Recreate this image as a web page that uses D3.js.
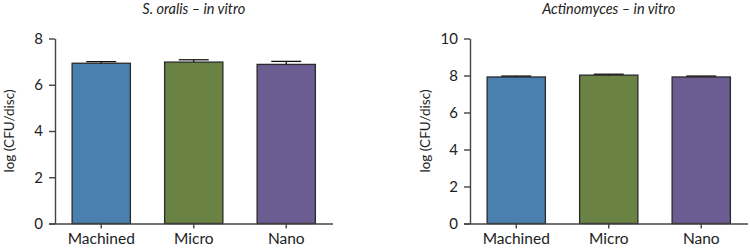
<!DOCTYPE html>
<html>
<head>
<meta charset="utf-8">
<script src="https://cdn.jsdelivr.net/npm/d3@7"></script>
<style>
  body { margin: 0; background: #fff; }
  svg text { font-family: Lato, "Open Sans", sans-serif; fill: #222; }
</style>
</head>
<body>
<div id="chart"></div>
<script>
// groups and colours shared by both panels
const groups = ["Machined", "Micro", "Nano"];
const barColors = ["#4a80b0", "#6a8244", "#6b5c91"];

// S. oralis - in vitro
const oralisMeans = [6.93, 6.98, 6.88];
const oralisErr = [0.07, 0.10, 0.13];
const oralisTicks = [0, 2, 4, 6, 8];

// Actinomyces - in vitro
const actinoMeans = [7.92, 8.02, 7.92];
const actinoErr = [0.05, 0.05, 0.05];
const actinoTicks = [0, 2, 4, 6, 8, 10];

const svg = d3.select("#chart").append("svg")
    .attr("width", 750)
    .attr("height", 248);

function drawPanel(opts) {
    let g = svg.append("g");

    let x = d3.scaleBand()
        .domain(groups)
        .range([opts.left, opts.left + 277.5])
        .paddingInner(0.37)
        .paddingOuter(0.185);

    let y = d3.scaleLinear()
        .domain([0, d3.max(opts.ticks)])
        .range([223.5, 38.5]);

    let data = groups.map((k, i) => ({ key: k, mean: opts.means[i], err: opts.err[i], color: barColors[i] }));

    // bars
    g.selectAll("rect.bar")
        .data(data)
        .enter().append("rect")
        .attr("class", "bar")
        .attr("x", d => x(d.key))
        .attr("width", x.bandwidth())
        .attr("y", d => y(d.mean))
        .attr("height", d => y(0) - y(d.mean))
        .attr("fill", d => d.color)
        .attr("stroke", "#2a2a2a")
        .attr("stroke-width", 1.3);

    // error bars (upper only)
    let eb = g.selectAll("g.err")
        .data(data)
        .enter().append("g")
        .attr("class", "err")
        .attr("stroke", "#111")
        .attr("stroke-width", 1.3);

    eb.append("line")
        .attr("x1", d => x(d.key) + x.bandwidth() / 2)
        .attr("x2", d => x(d.key) + x.bandwidth() / 2)
        .attr("y1", d => y(d.mean))
        .attr("y2", d => y(d.mean + d.err));

    eb.append("line")
        .attr("x1", d => x(d.key) + x.bandwidth() / 2 - 15)
        .attr("x2", d => x(d.key) + x.bandwidth() / 2 + 15)
        .attr("y1", d => y(d.mean + d.err))
        .attr("y2", d => y(d.mean + d.err));

    // y axis
    let yAxis = g.append("g")
        .attr("transform", `translate(${opts.left},0)`)
        .call(d3.axisLeft(y).tickValues(opts.ticks).tickSize(6).tickPadding(6).tickSizeOuter(0));

    // x axis
    let xAxis = g.append("g")
        .attr("transform", `translate(0,${y(0)})`)
        .call(d3.axisBottom(x).tickSize(5).tickPadding(4).tickSizeOuter(0));

    xAxis.select(".domain")
        .attr("d", `M${opts.left - 6},0.5H${opts.left + 278}`);

    [yAxis, xAxis].forEach(a => {
        a.selectAll(".domain, line").attr("stroke", "#444").attr("stroke-width", 1.4);
        a.selectAll("text").attr("fill", "#222");
    });
    yAxis.selectAll("text").style("font-size", "15px");
    xAxis.selectAll("text").style("font-size", "15.5px");

    // axis title
    g.append("text")
        .attr("transform", `translate(${opts.labelX},131) rotate(-90)`)
        .attr("text-anchor", "middle")
        .style("font-size", "13.5px")
        .text("log (CFU/disc)");

    // panel title
    g.append("text")
        .attr("x", opts.left + 138.75)
        .attr("y", 14)
        .attr("text-anchor", "middle")
        .style("font-size", "14.5px")
        .style("font-style", "italic")
        .text(opts.title);
}

drawPanel({ left: 55, means: oralisMeans, err: oralisErr, ticks: oralisTicks, title: "S. oralis \u2013 in vitro", labelX: 14 });
drawPanel({ left: 470, means: actinoMeans, err: actinoErr, ticks: actinoTicks, title: "Actinomyces \u2013 in vitro", labelX: 430 });
</script>
</body>
</html>
